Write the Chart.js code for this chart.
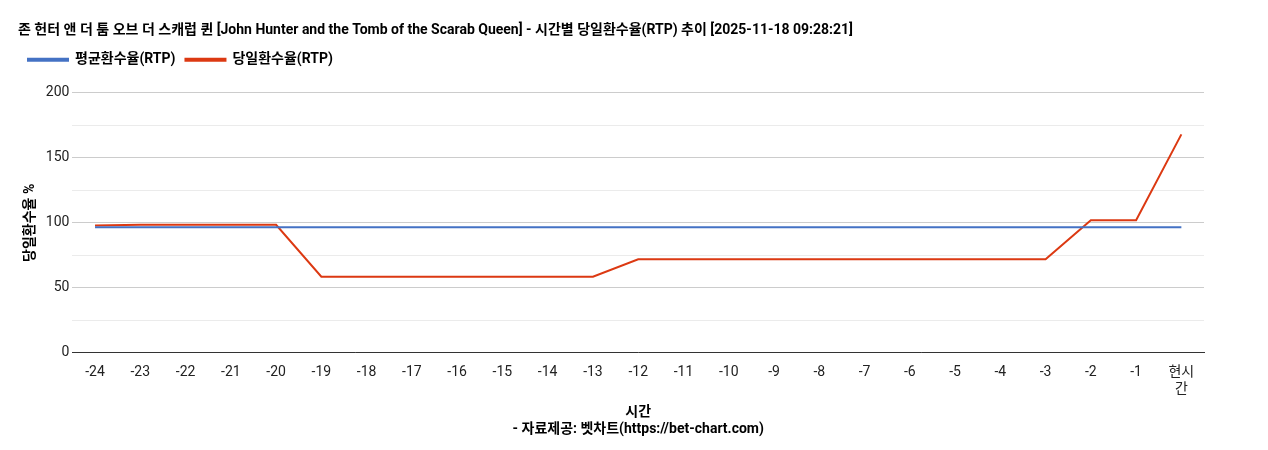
<!DOCTYPE html>
<html><head><meta charset="utf-8">
<script src="https://cdn.jsdelivr.net/npm/chart.js@4"></script>
<style>html,body{margin:0;padding:0;background:#fff}#w{width:1268px;height:450px}</style>
</head><body><div id="w"><canvas id="c"></canvas></div>
<script>
const categories = ["-24","-23","-22","-21","-20","-19","-18","-17","-16","-15","-14","-13","-12","-11","-10","-9","-8","-7","-6","-5","-4","-3","-2","-1",["현시","간"]];
const avgRtp = [96.5,96.5,96.5,96.5,96.5,96.5,96.5,96.5,96.5,96.5,96.5,96.5,96.5,96.5,96.5,96.5,96.5,96.5,96.5,96.5,96.5,96.5,96.5,96.5,96.5];
const dailyRtp = [98,98.5,98.5,98.5,98.5,58.5,58.5,58.5,58.5,58.5,58.5,58.5,72,72,72,72,72,72,72,72,72,72,102,102,168];
const yTicks = [0,50,100,150,200];
const F = "Roboto,'Noto Sans CJK KR',sans-serif";
Chart.defaults.font.family = F;
const legendGap = {id:'legendGap', beforeInit(chart){const f=chart.legend.fit; chart.legend.fit=function(){f.bind(chart.legend)(); this.height+=16;};}};
new Chart(document.getElementById('c'), {
  type: 'line',
  plugins:[legendGap],
  data: { labels: categories, datasets: [
    {label:'평균환수율(RTP)', data: avgRtp, borderColor:'#4472c4', backgroundColor:'#4472c4', borderWidth:2, pointRadius:0, tension:0},
    {label:'당일환수율(RTP)', data: dailyRtp, borderColor:'#dc3912', backgroundColor:'#dc3912', borderWidth:2, pointRadius:0, tension:0}
  ]},
  options: {
    responsive:true, maintainAspectRatio:false, animation:false,
    layout:{padding:{left:18,right:64,top:20,bottom:8}},
    plugins:{
      title:{display:true, text:'존 헌터 앤 더 툼 오브 더 스캐럽 퀸 [John Hunter and the Tomb of the Scarab Queen] - 시간별 당일환수율(RTP) 추이 [2025-11-18 09:28:21]', align:'start', color:'#000', font:{size:14,weight:'bold'}, padding:{top:2,bottom:4}},
      legend:{align:'start', labels:{boxWidth:40, boxHeight:2, color:'#000', font:{size:14,weight:'bold'}, padding:10}},
      tooltip:{enabled:false}
    },
    scales:{
      x:{offset:true, grid:{display:false}, border:{color:'#333'}, ticks:{color:'#222', font:{size:14}, maxRotation:0, autoSkip:false},
         title:{display:true, text:['시간','- 자료제공: 벳차트(https://bet-chart.com)'], color:'#000', font:{size:14,weight:'bold'}, padding:{top:4}}},
      y:{min:0, max:200, ticks:{stepSize:25, color:'#222', font:{size:14}, callback:v=>yTicks.includes(v)?v:''},
         grid:{color:c=>c.tick.value%50===0?'#ccc':'#ebebeb', drawTicks:false}, border:{display:false},
         title:{display:true, text:'당일환수율 %', color:'#000', font:{size:14,weight:'bold'}}}
    }
  }
});
</script></body></html>
